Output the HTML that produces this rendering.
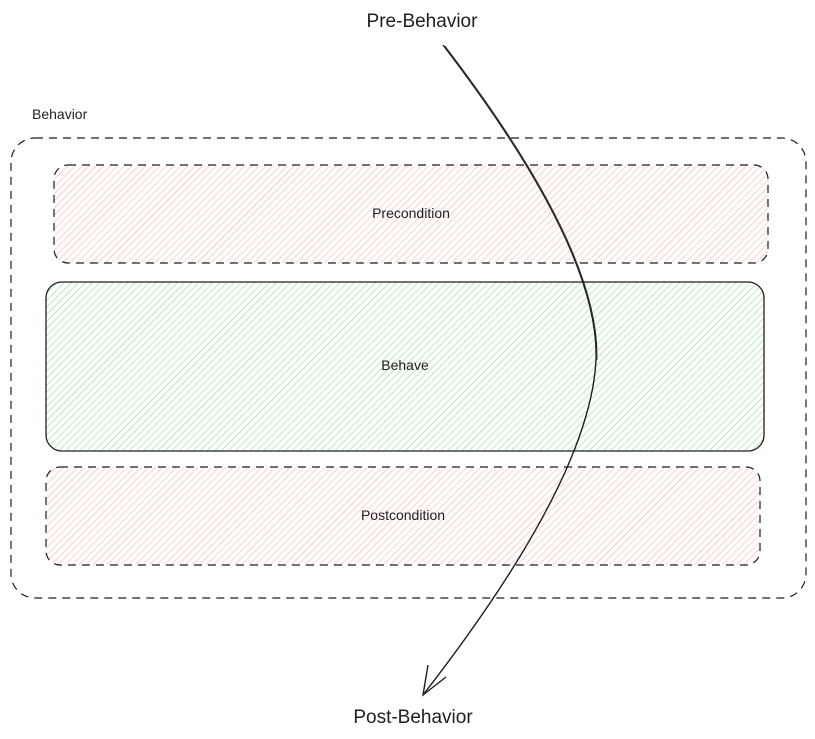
<!DOCTYPE html>
<html><head><meta charset="utf-8"><style>
html,body{margin:0;padding:0;background:#fff;width:815px;height:739px;overflow:hidden}
text{font-family:"Liberation Sans",sans-serif;fill:#1e1e1e}
</style></head><body>
<svg width="815" height="739" viewBox="0 0 815 739" xmlns="http://www.w3.org/2000/svg">
<defs>
<pattern id="pk" width="5" height="5" patternUnits="userSpaceOnUse" patternTransform="rotate(45)">
<rect width="5" height="5" fill="#fff"/>
<line x1="0" y1="0" x2="0" y2="5" stroke="#ffa8a8" stroke-width="1.2" opacity="0.9"/>
</pattern>
<pattern id="gr" width="5" height="5" patternUnits="userSpaceOnUse" patternTransform="rotate(45)">
<rect width="5" height="5" fill="#fff"/>
<line x1="0" y1="0" x2="0" y2="5" stroke="#7fe090" stroke-width="1.2" opacity="0.95"/>
</pattern>
</defs>
<rect x="11" y="138" width="795" height="460" rx="24" fill="none" stroke="#1e1e1e" stroke-width="1.2" stroke-dasharray="8 6"/>
<rect x="54" y="165" width="714" height="98" rx="14" fill="url(#pk)" stroke="#1e1e1e" stroke-width="1.2" stroke-dasharray="8 6"/>
<rect x="46" y="282" width="718" height="169" rx="16" fill="url(#gr)" stroke="#1e1e1e" stroke-width="1.3"/>
<rect x="46" y="467" width="714" height="98" rx="14" fill="url(#pk)" stroke="#1e1e1e" stroke-width="1.2" stroke-dasharray="8 6"/>
<text x="32" y="119" font-size="14">Behavior</text>
<text x="411" y="218" font-size="14" text-anchor="middle">Precondition</text>
<text x="405" y="370" font-size="14" text-anchor="middle">Behave</text>
<text x="403" y="520" font-size="14" text-anchor="middle">Postcondition</text>
<text x="422" y="27" font-size="19" text-anchor="middle">Pre-Behavior</text>
<text x="413" y="723" font-size="19" text-anchor="middle">Post-Behavior</text>
<path d="M443,45 Q600,250 596,360 Q590,480 423,695" fill="none" stroke="#1e1e1e" stroke-width="1.4"/>
<path d="M445,46 Q601,250 597,360" fill="none" stroke="#1e1e1e" stroke-width="0.7"/>
<path d="M428,665 L423,695 L446,677" fill="none" stroke="#1e1e1e" stroke-width="1.4"/>
</svg>
</body></html>
